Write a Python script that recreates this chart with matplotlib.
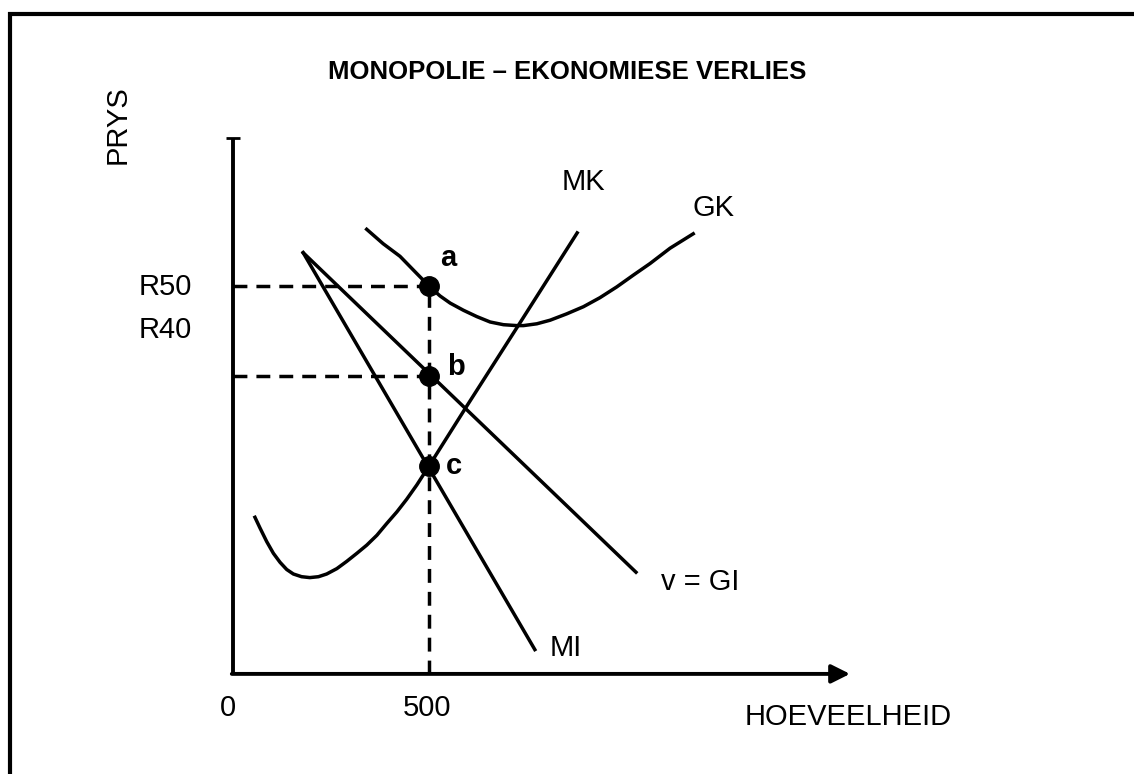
import matplotlib.pyplot as plt
import numpy as np

plt.rcParams['font.family'] = ['Liberation Sans', 'DejaVu Sans']

# curves (quantity, price in R)
mk_q = [56, 69, 86, 103, 120, 137, 154, 175, 196, 218, 239, 265, 290, 316, 341,
        367, 392, 418, 443, 469, 500, 597, 732, 878]
mk_p = [24.3, 23.1, 21.6, 20.3, 19.3, 18.5, 18.0, 17.7, 17.6, 17.7, 18.0, 18.6, 19.4, 20.3, 21.2,
        22.3, 23.6, 24.9, 26.3, 27.9, 30.0, 36.7, 45.9, 55.9]

gk_q = [341, 383, 426, 464, 500, 528, 554, 588, 622, 656, 690, 724, 741, 775, 809,
        851, 894, 936, 979, 1021, 1064, 1115, 1174]
gk_p = [56.3, 54.7, 53.3, 51.6, 50.0, 48.9, 48.1, 47.3, 46.6, 46.0, 45.7, 45.6, 45.6, 45.8, 46.2,
        46.9, 47.7, 48.7, 49.9, 51.2, 52.5, 54.2, 55.8]

vraag_q = [179, 1028]
vraag_p = [53.7, 18.2]

mi_q = [179, 770]
mi_p = [53.7, 9.6]

q_eq = 500
punte_p = [50, 40, 30]
punte_lbl = ['a', 'b', 'c']

# axis extents
q_max = 1574
p_min = 6.9
p_max = 66.4

W, H = 1134, 774
fig = plt.figure(figsize=(W / 100, H / 100), dpi=100)
ax = fig.add_axes([0, 0, 1, 1])
# pixel mapping: q -> 233 + 0.392 q ; p -> 736 - 9 p
ax.set_xlim(-233 / 0.392, (W - 233) / 0.392)
ax.set_ylim((736 - H) / 9, 736 / 9)
ax.axis('off')


def px(x, y):
    return x / W, 1 - y / H


# frame (top and left only)
ax.plot([8 / W, 1.0], [1 - 14 / H, 1 - 14 / H], color='black', lw=3, transform=ax.transAxes,
        solid_capstyle='butt')
ax.plot([10 / W, 10 / W], [1 - 12 / H, 0], color='black', lw=3, transform=ax.transAxes,
        solid_capstyle='butt')

# axes
ax.plot([0, 0], [p_min, p_max], color='black', lw=2.8, solid_capstyle='butt')
ax.plot([-18, 18], [p_max, p_max], color='black', lw=2, solid_capstyle='butt')
ax.annotate('', xy=(q_max, p_min), xytext=(-3, p_min),
            arrowprops=dict(arrowstyle='-|>', lw=2.8, color='black', mutation_scale=28,
                            shrinkA=0, shrinkB=0))

lw = 2.5
ax.plot(mk_q, mk_p, color='black', lw=lw)
ax.plot(gk_q, gk_p, color='black', lw=lw)
ax.plot(vraag_q, vraag_p, color='black', lw=lw)
ax.plot(mi_q, mi_p, color='black', lw=lw)

# dashed guides
ax.plot([q_eq, q_eq], [p_min, punte_p[0]], color='black', lw=2.5, ls=(0, (4, 2.6)))
for p in punte_p[:2]:
    ax.plot([0, q_eq], [p, p], color='black', lw=2.5, ls=(0, (4, 2.6)))

ax.plot([q_eq] * 3, punte_p, 'o', color='black', ms=14, zorder=5)

fs = 21
ax.text(*px(567, 72), 'MONOPOLIE – EKONOMIESE VERLIES', transform=ax.transAxes,
        ha='center', va='center', fontsize=18.5, fontweight='bold')
ax.text(*px(118, 125), 'PRYS', transform=ax.transAxes, rotation=90,
        ha='center', va='center', fontsize=fs)
ax.text(*px(165, 287), 'R50', transform=ax.transAxes, ha='center', va='center', fontsize=fs)
ax.text(*px(165, 330), 'R40', transform=ax.transAxes, ha='center', va='center', fontsize=fs)
for lbl, pos in zip(punte_lbl, [(448, 258), (456, 367), (454, 466)]):
    ax.text(*px(*pos), lbl, transform=ax.transAxes, ha='center', va='center',
            fontsize=fs, fontweight='bold')
ax.text(*px(583, 182), 'MK', transform=ax.transAxes, ha='center', va='center', fontsize=fs)
ax.text(*px(713, 208), 'GK', transform=ax.transAxes, ha='center', va='center', fontsize=fs)
ax.text(*px(700, 582), 'v = GI', transform=ax.transAxes, ha='center', va='center', fontsize=fs)
ax.text(*px(566, 648), 'MI', transform=ax.transAxes, ha='center', va='center', fontsize=fs)
ax.text(*px(228, 708), '0', transform=ax.transAxes, ha='center', va='center', fontsize=fs)
ax.text(*px(427, 708), '500', transform=ax.transAxes, ha='center', va='center', fontsize=fs)
ax.text(*px(848, 717), 'HOEVEELHEID', transform=ax.transAxes, ha='center', va='center', fontsize=fs)

fig.savefig('out.png', dpi=100)
